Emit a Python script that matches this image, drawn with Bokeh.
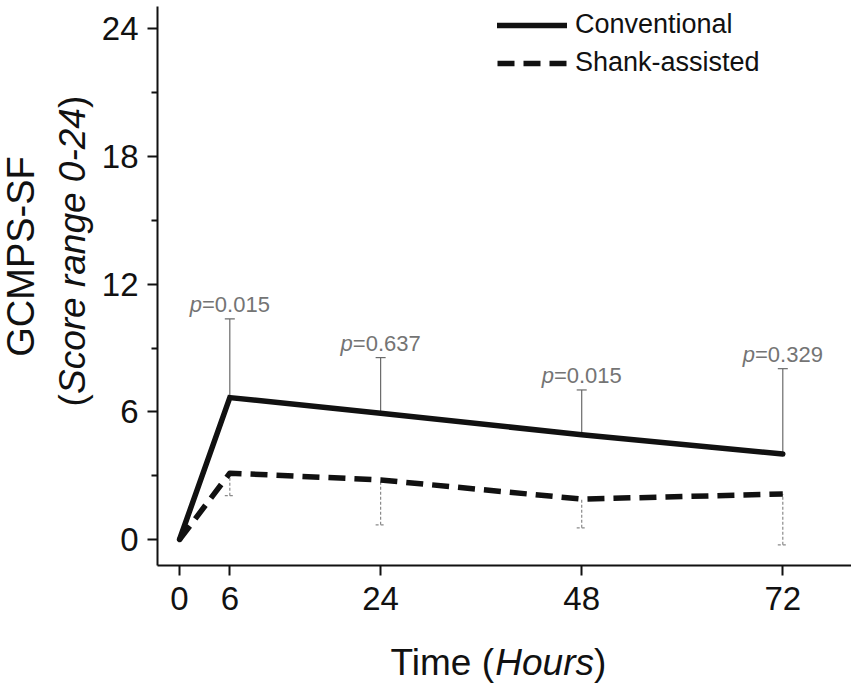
import math
from bokeh.plotting import figure
from bokeh.layouts import row, column
from bokeh.models import (Range1d, FixedTicker, ColumnDataSource, Whisker, TeeHead,
                          Legend, LegendItem, Label)
from bokeh.core.properties import value
from bokeh.embed import file_html
from bokeh.resources import INLINE

# ---------------- data ----------------
hours = [0, 6, 24, 48, 72]
x_ticks = [0, 6, 24, 48, 72]
y_ticks = [0, 6, 12, 18, 24]
y_minor_ticks = [3, 9, 15, 21]

conventional = [0.0, 6.67, 5.94, 4.92, 4.02]
shank_assisted = [0.0, 3.12, 2.80, 1.90, 2.14]

err_hours = [6, 24, 48, 72]
conv_mean = [6.67, 5.94, 4.92, 4.02]
conv_upper = [10.37, 8.55, 7.03, 8.03]
shank_mean = [3.12, 2.80, 1.90, 2.14]
shank_lower = [2.06, 0.69, 0.55, -0.25]
p_values = ["=0.015", "=0.637", "=0.015", "=0.329"]

y_title_1 = "GCMPS-SF"
y_title_2 = ["(", "Score range 0-24", ")"]
x_title = ["Time (", "Hours", ")"]

# ---------------- layout ----------------
FONT = "Liberation Sans"
TOTAL_W, TOTAL_H = 851, 688
YT_W = 98                      # width of the y-title strip
MAIN_W = TOTAL_W - YT_W
MAIN_H = 630
XT_H = TOTAL_H - MAIN_H        # height of the x-title strip
FRAME_LEFT = 157               # page x of the plot frame's left edge
LEFT, TOP, BOTTOM = FRAME_LEFT - YT_W, 6, MAIN_H - 565
X_START, X_END = -2.63, 80.2
Y_START, Y_END = -1.22, 25.05
FRAME_H = MAIN_H - BOTTOM - TOP

p = figure(width=MAIN_W, height=MAIN_H, output_backend="svg", toolbar_location=None,
           x_range=Range1d(X_START, X_END), y_range=Range1d(Y_START, Y_END),
           min_border_left=LEFT, min_border_right=0, min_border_top=TOP,
           min_border_bottom=BOTTOM)
p.outline_line_color = None
p.grid.visible = False
p.background_fill_color = "white"
p.border_fill_color = "white"

for ax in (p.xaxis[0], p.yaxis[0]):
    ax.axis_line_width = 2
    ax.axis_line_color = "#111111"
    ax.major_tick_line_width = 2
    ax.major_tick_line_color = "#111111"
    ax.minor_tick_line_width = 2
    ax.minor_tick_line_color = "#111111"
    ax.major_tick_in = 0
    ax.major_tick_out = 10
    ax.minor_tick_in = 0
    ax.minor_tick_out = 6
    ax.major_label_text_font = FONT
    ax.major_label_text_font_size = "33px"
    ax.major_label_text_color = "#111111"

p.xaxis.ticker = FixedTicker(ticks=x_ticks)
p.xaxis.major_label_standoff = 11
p.yaxis.ticker = FixedTicker(ticks=y_ticks, minor_ticks=y_minor_ticks)
p.yaxis.major_label_standoff = 9

# error bars
conv_src = ColumnDataSource(dict(x=err_hours, lo=conv_mean, hi=conv_upper))
shank_src = ColumnDataSource(dict(x=err_hours, lo=shank_lower, hi=shank_mean))
w1 = Whisker(source=conv_src, base="x", lower="lo", upper="hi", dimension="height",
             line_color="#6a6a6a", line_width=1.2,
             upper_head=TeeHead(size=10, line_color="#6a6a6a", line_width=1.2),
             lower_head=None)
w2 = Whisker(source=shank_src, base="x", lower="lo", upper="hi", dimension="height",
             line_color="#8a8a8a", line_width=1.2, line_dash="3 2",
             lower_head=TeeHead(size=10, line_color="#8a8a8a", line_width=1.2, line_dash="3 2"),
             upper_head=None)
p.add_layout(w1)
p.add_layout(w2)

r_conv = p.line(hours, conventional, line_color="#111111", line_width=5.5,
                line_cap="round", line_join="miter")
r_shank = p.line(hours, shank_assisted, line_color="#111111", line_width=5.5,
                 line_dash="17 9", line_cap="butt", line_join="round")

# p-value labels
PSIZE = 22
p_w = 0.556 * PSIZE
rest_w = 3.086 * PSIZE
half = (p_w + rest_w) / 2
p.text(x=err_hours, y=conv_upper, text=["p"] * len(err_hours), text_font=value(FONT),
       text_font_size=f"{PSIZE}px", text_font_style="italic", text_color="#747474",
       text_align="left", text_baseline="alphabetic", x_offset=-half, y_offset=-14)
p.text(x=err_hours, y=conv_upper, text=p_values, text_font=value(FONT),
       text_font_size=f"{PSIZE}px", text_color="#747474",
       text_align="left", text_baseline="alphabetic", x_offset=-half + p_w, y_offset=-14)

# legend
legend = Legend(items=[LegendItem(label="Conventional", renderers=[r_conv]),
                       LegendItem(label="Shank-assisted", renderers=[r_shank])],
                location=(340, FRAME_H - 72), orientation="vertical",
                glyph_width=70, glyph_height=30, label_height=30, label_standoff=8,
                spacing=7, padding=0, margin=0,
                label_text_font=FONT, label_text_font_size="27px",
                label_text_color="#111111",
                border_line_alpha=0, background_fill_alpha=0)
p.add_layout(legend)


# ---------------- title strips (ranges in page pixels) ----------------
def strip(w, h, xr, yr):
    f = figure(width=w, height=h, output_backend="svg", toolbar_location=None,
               x_range=Range1d(*xr), y_range=Range1d(*yr),
               x_axis_type=None, y_axis_type=None,
               min_border=0, min_border_left=0, min_border_right=0,
               min_border_top=0, min_border_bottom=0)
    f.grid.visible = False
    f.outline_line_color = None
    f.background_fill_color = "white"
    f.border_fill_color = "white"
    return f


def lab(f, text, x, y, size, style="normal", angle=0.0, align="left"):
    f.add_layout(Label(x=x, y=y, text=text, text_font=FONT,
                       text_font_size=f"{size}px", text_font_style=style,
                       text_color="#111111", angle=angle, text_align=align,
                       text_baseline="alphabetic"))


# y strip: x = page x, y = TOTAL_H - page y
yt = strip(YT_W, TOTAL_H, (0, YT_W), (0, TOTAL_H))
lab(yt, y_title_1, 20, TOTAL_H - 256, 38, angle=math.pi / 2, align="center")
lab(yt, y_title_2[0], 72, TOTAL_H - 406, 37, angle=math.pi / 2)
lab(yt, y_title_2[1], 72, TOTAL_H - 393.5, 37, style="italic", angle=math.pi / 2)
lab(yt, y_title_2[2], 72, TOTAL_H - 107.5, 37, angle=math.pi / 2)

# x strip: frame is aligned with the main frame (page x 157..851)
xt = strip(MAIN_W, XT_H, (FRAME_LEFT, TOTAL_W), (0, XT_H))
mid_y = TOTAL_H - 662
lab(xt, x_title[0], 390, mid_y, 37)
lab(xt, x_title[1], 494.8, mid_y, 37, style="italic")
lab(xt, x_title[2], 593.5, mid_y, 37)

layout = row(yt, column(p, xt, spacing=0), spacing=0)
open("out.html", "w").write(file_html(layout, INLINE))
